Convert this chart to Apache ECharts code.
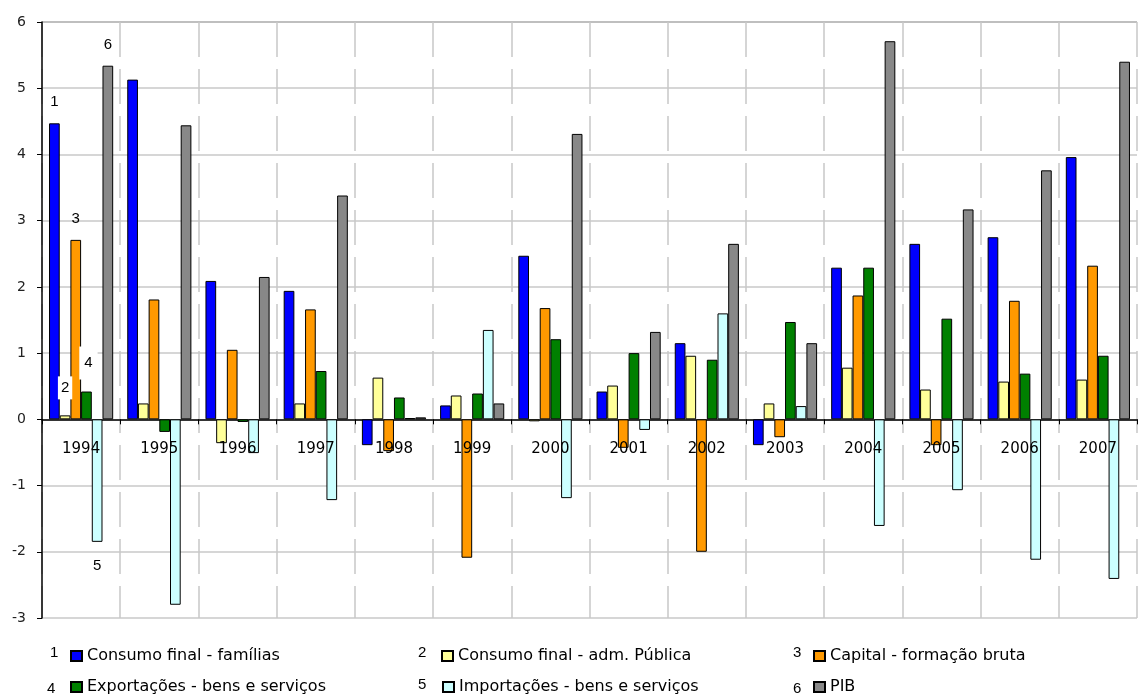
<!DOCTYPE html>
<html>
<head>
<meta charset="utf-8">
<script src="https://cdn.jsdelivr.net/npm/echarts@6/dist/echarts.min.js"></script>
<style>
html,body{margin:0;padding:0;background:#fff;}
#chart{width:1138px;height:700px;}
</style>
</head>
<body>
<div id="chart"></div>
<script>
var years = ['1994','1995','1996','1997','1998','1999','2000','2001','2002','2003','2004','2005','2006','2007'];
var seriesNames = ['Consumo final - famílias','Consumo final - adm. Pública','Capital - formação bruta','Exportações - bens e serviços','Importações - bens e serviços','PIB'];
var seriesNumbers = ['1','2','3','4','5','6'];
var consumoFamilias = [4.47, 5.13, 2.09, 1.94, -0.39, 0.21, 2.47, 0.42, 1.15, -0.39, 2.29, 2.65, 2.75, 3.96];
var consumoAdm      = [0.06, 0.24, -0.36, 0.24, 0.63, 0.36, -0.03, 0.51, 0.96, 0.24, 0.78, 0.45, 0.57, 0.60];
var capitalFormacao = [2.71, 1.81, 1.05, 1.66, -0.48, -2.09, 1.68, -0.43, -2.00, -0.27, 1.87, -0.39, 1.79, 2.32];
var exportacoes     = [0.42, -0.19, -0.04, 0.73, 0.33, 0.39, 1.21, 1.00, 0.90, 1.47, 2.29, 1.52, 0.69, 0.96];
var importacoes     = [-1.85, -2.80, -0.51, -1.22, 0.02, 1.35, -1.19, -0.16, 1.60, 0.20, -1.61, -1.07, -2.12, -2.41];
var pib             = [5.34, 4.44, 2.15, 3.38, 0.03, 0.24, 4.31, 1.32, 2.65, 1.15, 5.71, 3.17, 3.76, 5.40];
var yTicks = [-3, -2, -1, 0, 1, 2, 3, 4, 5, 6];

var allValues = [consumoFamilias, consumoAdm, capitalFormacao, exportacoes, importacoes, pib];
var colors = ['#0000ff', '#ffff99', '#ff9900', '#008000', '#ccffff', '#888888'];

var labelStyles = [
  {position: 'top', distance: 14},
  {position: 'top', distance: 16, backgroundColor: '#fff', padding: [4, 3]},
  {position: 'top', distance: 14},
  {position: 'top', distance: 12, backgroundColor: '#fff', padding: [9, 5], offset: [2, 0]},
  {position: 'bottom', distance: 17},
  {position: 'top', distance: 13}
];

var series = allValues.map(function (vals, si) {
  return {
    name: seriesNames[si],
    type: 'bar',
    xAxisIndex: 0,
    barGap: '0%',
    barCategoryGap: '18%',
    itemStyle: {color: colors[si], borderColor: '#000', borderWidth: 1},
    data: vals.map(function (v, i) {
      if (i !== 0) return v;
      var lab = Object.assign({
        show: true,
        formatter: seriesNumbers[si],
        color: '#000',
        fontFamily: 'Liberation Sans',
        fontSize: 15
      }, labelStyles[si]);
      return {value: v, label: lab};
    })
  };
});

var legendPos = [
  {left: 70, top: 648}, {left: 441, top: 648}, {left: 813, top: 648},
  {left: 70, top: 679}, {left: 442, top: 679}, {left: 813, top: 679}
];
var legends = seriesNames.map(function (n, i) {
  return {
    data: [n],
    left: legendPos[i].left,
    top: legendPos[i].top,
    padding: 0,
    itemWidth: 11,
    itemHeight: 10,
    icon: 'rect',
    selectedMode: false,
    textStyle: {color: '#000', fontFamily: 'DejaVu Sans', fontSize: 16}
  };
});

var numPos = [[50, 645], [418, 645], [793, 645], [47, 681], [418, 677], [793, 681]];
var graphics = seriesNumbers.map(function (t, i) {
  return {
    type: 'text',
    left: numPos[i][0],
    top: numPos[i][1],
    style: {text: t, fill: '#000', font: '15px "Liberation Sans"'}
  };
});

var gridTop = 22, gridBottom = 82, chartH = 700;
var gridH = chartH - gridTop - gridBottom;
var yMin = yTicks[0], yMax = yTicks[yTicks.length - 1];
// move x axis (line, ticks, labels) up to the zero level through the axis offset
var zeroOffset = -gridH * (0 - yMin) / (yMax - yMin);

var chart = echarts.init(document.getElementById('chart'));
chart.setOption({
  animation: false,
  backgroundColor: '#fff',
  grid: {left: 42, right: 1, top: gridTop, bottom: gridBottom, containLabel: false},
  legend: legends,
  graphic: graphics,
  xAxis: [{
    type: 'category',
    data: years,
    position: 'bottom',
    offset: zeroOffset,
    axisLine: {onZero: false, lineStyle: {color: '#000', width: 1.5}},
    axisTick: {show: true, length: 5, lineStyle: {color: '#000', width: 1}},
    axisLabel: {show: false},
    splitLine: {show: true, lineStyle: {color: '#c8c8c8', width: 1.5, type: [35, 12]}}
  }, {
    type: 'category',
    data: years,
    position: 'bottom',
    offset: zeroOffset,
    z: 6,
    axisLine: {show: false, onZero: false},
    axisTick: {show: false},
    axisLabel: {margin: 22, color: '#000', fontFamily: 'DejaVu Sans', fontSize: 15},
    splitLine: {show: false}
  }],
  yAxis: {
    type: 'value',
    min: yMin,
    max: yMax,
    interval: 1,
    axisLine: {show: true, lineStyle: {color: '#000', width: 1.5}},
    axisTick: {show: true, length: 5, lineStyle: {color: '#000'}},
    axisLabel: {margin: 16, color: '#222', fontFamily: 'DejaVu Sans', fontSize: 14,
      formatter: function (v) { return String(v).replace('\u2212', '-'); }},
    splitLine: {show: true, lineStyle: {color: ['#c8c8c8','#c8c8c8','#c8c8c8','#c8c8c8','#c8c8c8','#c8c8c8','#c8c8c8','#c8c8c8','#c8c8c8','#aaaaaa'], width: 1.5}}
  },
  series: series
});
</script>
</body>
</html>
